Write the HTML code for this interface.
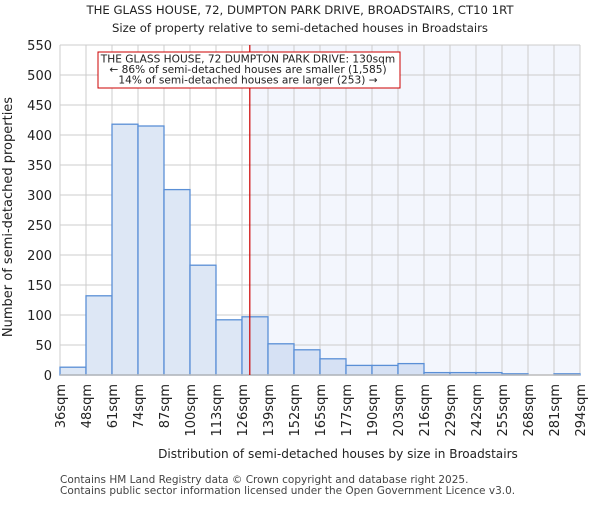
<!DOCTYPE html>
<html><head><meta charset="utf-8"><style>body{margin:0;background:#fff}svg{font-family:"DejaVu Sans","Liberation Sans",sans-serif}</style></head>
<body>
<svg id="c" width="600" height="500" xmlns="http://www.w3.org/2000/svg">
<text x="300" y="14" text-anchor="middle" font-size="11.7" fill="#222">THE GLASS HOUSE, 72, DUMPTON PARK DRIVE, BROADSTAIRS, CT10 1RT</text>
<text x="300" y="32" text-anchor="middle" font-size="11.7" fill="#222">Size of property relative to semi-detached houses in Broadstairs</text>
<g id="plot"></g>
<text x="338" y="458" text-anchor="middle" font-size="12.1" fill="#222">Distribution of semi-detached houses by size in Broadstairs</text>
<text transform="translate(12,217) rotate(-90)" text-anchor="middle" font-size="13" fill="#222">Number of semi-detached properties</text>
<text x="60" y="483" font-size="10.5" fill="#444">Contains HM Land Registry data © Crown copyright and database right 2025.</text>
<text x="60" y="494" font-size="10.5" fill="#444">Contains public sector information licensed under the Open Government Licence v3.0.</text>
</svg>
<script>
const labels=["36sqm","48sqm","61sqm","74sqm","87sqm","100sqm","113sqm","126sqm","139sqm","152sqm","165sqm","177sqm","190sqm","203sqm","216sqm","229sqm","242sqm","255sqm","268sqm","281sqm","294sqm"];
const counts=[13,132,418,415,309,183,92,97,52,42,27,16,16,19,4,4,4,2,0,2];
const yTicks=[0,50,100,150,200,250,300,350,400,450,500,550];
const markerPos=7.3;
const X0=60,X1=580,Y0=375,Y1=45,N=counts.length;
const xs=i=>X0+(X1-X0)*i/N;
const ys=v=>Y0-(Y0-Y1)*v/550;
const ns="http://www.w3.org/2000/svg",g=document.getElementById('plot');
function mk(t,a){const e=document.createElementNS(ns,t);for(const k in a)e.setAttribute(k,a[k]);g.appendChild(e);return e;}
const mx=xs(markerPos);
let r=mk('rect',{x:mx,y:Y1,width:X1-mx,height:Y0-Y1,fill:'#f3f6fd'});


yTicks.forEach(v=>{let l=mk('line',{x1:X0,x2:X1,y1:ys(v),y2:ys(v),stroke:'#ccc'});


let t=mk('text',{x:X0-8,y:ys(v)+5,'text-anchor':'end','font-size':'13',fill:'#222'});t.textContent=v;

});
labels.forEach((s,i)=>{let l=mk('line',{x1:xs(i),x2:xs(i),y1:Y1,y2:Y0,stroke:'#ccc'});


let t=mk('text',{transform:`translate(${xs(i)+5},384) rotate(-90)`,'text-anchor':'end','font-size':'13',fill:'#222'});t.textContent=s;

});
counts.forEach((v,i)=>{let b=mk('rect',{x:xs(i),y:ys(v),width:xs(i+1)-xs(i),height:Y0-ys(v),fill:i>=7?'#d6e1f4':'#dde7f5',stroke:'#5a8fd6','stroke-width':1.3});

});
let ax=mk('line',{x1:X0,x2:X1,y1:Y0,y2:Y0,stroke:'#bbb','stroke-width':1.5});


let ml=mk('line',{x1:mx,x2:mx,y1:Y1,y2:Y0,stroke:'#cc0000','stroke-width':1.2});


let box=mk('rect',{x:98,y:52,width:302,height:36,fill:'#fff',stroke:'#cc0000','stroke-width':1});


["THE GLASS HOUSE, 72 DUMPTON PARK DRIVE: 130sqm","← 86% of semi-detached houses are smaller (1,585)","14% of semi-detached houses are larger (253) →"].forEach((s,i)=>{let t=mk('text',{x:248,y:62.5+i*10.5,'text-anchor':'middle','font-size':'10.6',fill:'#222'});t.textContent=s;

});
</script>
</body></html>
